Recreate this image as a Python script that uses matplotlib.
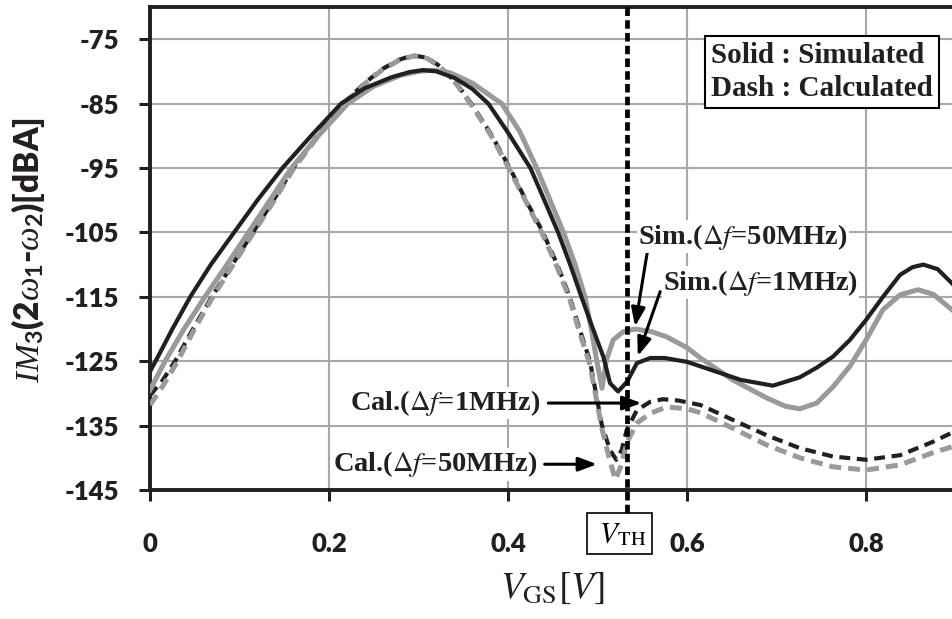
import matplotlib.pyplot as plt

plt.rcParams['mathtext.fontset'] = 'custom'
plt.rcParams['mathtext.rm'] = 'Lato:bold'
plt.rcParams['mathtext.bf'] = 'Lato:bold'
plt.rcParams['mathtext.it'] = 'Liberation Serif:italic'
plt.rcParams['axes.unicode_minus'] = False

# Sim. (df = 1MHz), black solid
vgs_sim1 = [0.0, 0.01, 0.025, 0.045, 0.068, 0.094, 0.12, 0.148, 0.18, 0.2135, 0.24, 0.27, 0.29,
            0.305, 0.32, 0.34, 0.36, 0.378, 0.40, 0.425, 0.44, 0.456, 0.47, 0.482, 0.495, 0.5065,
            0.514, 0.523, 0.533, 0.544, 0.559, 0.575, 0.6, 0.63, 0.66, 0.696, 0.726, 0.745,
            0.763, 0.782, 0.8, 0.819, 0.838, 0.852, 0.864, 0.88, 0.896]
im3_sim1 = [-126.6, -124.0, -120.0, -115.0, -110.0, -105.0, -100.0, -95.0, -90.0, -85.0, -82.6,
            -80.9, -80.1, -79.8, -80.0, -81.0, -82.7, -85.0, -89.5, -95.0, -99.8, -105.0, -110.2,
            -115.0, -120.0, -124.3, -128.4, -129.7, -128.2, -125.3, -124.5, -124.5, -125.1,
            -126.5, -127.9, -128.8, -127.5, -126.0, -124.3, -121.7, -118.6, -115.0, -111.6,
            -110.4, -110.0, -110.7, -112.9]

# Sim. (df = 50MHz), gray solid
vgs_sim50 = [0.0, 0.0168, 0.038, 0.0614, 0.086, 0.11, 0.134, 0.158, 0.188, 0.221, 0.25, 0.28,
             0.3, 0.316, 0.335, 0.36, 0.393, 0.413, 0.432, 0.447, 0.462, 0.475, 0.486, 0.493,
             0.499, 0.505, 0.510, 0.5175, 0.529, 0.542, 0.56, 0.577, 0.6, 0.615, 0.651, 0.689,
             0.71, 0.726, 0.745, 0.763, 0.782, 0.8, 0.819, 0.838, 0.858, 0.875, 0.896]
im3_sim50 = [-129.5, -125.0, -120.0, -115.0, -110.0, -105.0, -100.0, -95.0, -90.0, -85.0, -82.3,
             -80.6, -80.0, -79.8, -80.2, -81.8, -85.0, -89.3, -95.0, -100.0, -105.0, -110.0,
             -115.0, -120.0, -124.8, -129.2, -124.8, -121.7, -120.4, -120.0, -120.4, -121.2,
             -122.9, -124.5, -127.9, -130.7, -132.0, -132.4, -131.5, -129.0, -125.8, -121.7,
             -117.0, -114.7, -113.9, -114.6, -117.0]

# Cal. (df = 1MHz), black dashed
vgs_cal1 = [0.0, 0.014, 0.028, 0.048, 0.069, 0.092, 0.115, 0.138, 0.16, 0.187, 0.216, 0.24,
            0.26, 0.278, 0.294, 0.31, 0.325, 0.342, 0.359, 0.38, 0.402, 0.42, 0.439, 0.455,
            0.469, 0.48, 0.4916, 0.505, 0.514, 0.521, 0.527, 0.5326, 0.544, 0.559, 0.573, 0.59,
            0.615, 0.651, 0.689, 0.726, 0.763, 0.8, 0.838, 0.875, 0.896]
im3_cal1 = [-130.3, -128.0, -125.0, -120.0, -115.0, -110.0, -105.0, -100.0, -95.0, -90.0, -85.0,
            -81.8, -79.6, -78.2, -77.5, -77.9, -79.3, -81.8, -85.0, -89.5, -95.0, -100.0, -105.0,
            -110.0, -115.0, -120.0, -125.0, -135.0, -138.8, -140.3, -138.8, -135.7, -132.6,
            -131.3, -130.9, -131.1, -131.8, -134.1, -136.5, -138.5, -139.8, -140.3, -139.6,
            -137.5, -136.1]

# Cal. (df = 50MHz), gray dashed
vgs_cal50 = [0.0, 0.015, 0.03, 0.049, 0.069, 0.092, 0.115, 0.138, 0.16, 0.187, 0.216, 0.24,
             0.26, 0.278, 0.294, 0.31, 0.325, 0.342, 0.359, 0.38, 0.402, 0.42, 0.439, 0.455,
             0.469, 0.48, 0.4916, 0.505, 0.513, 0.52, 0.527, 0.5326, 0.544, 0.559, 0.577, 0.6,
             0.615, 0.651, 0.689, 0.726, 0.763, 0.8, 0.838, 0.875, 0.896]
im3_cal50 = [-131.8, -128.7, -125.2, -120.2, -115.3, -110.2, -105.2, -100.2, -95.2, -90.2,
             -85.2, -81.9, -79.7, -78.3, -77.6, -78.0, -79.4, -81.9, -85.2, -89.7, -95.3,
             -100.2, -105.4, -110.4, -115.4, -120.5, -125.6, -135.5, -140.0, -143.4, -141.0,
             -137.7, -134.6, -133.1, -132.1, -132.4, -133.0, -135.4, -138.0, -140.0, -141.4,
             -141.9, -141.1, -139.2, -138.3]

vth = 0.533
xticks = [0, 0.2, 0.4, 0.6, 0.8]
xticklabels = ['0', '0.2', '0.4', '0.6', '0.8']
yticks = [-145, -135, -125, -115, -105, -95, -85, -75]
yticklabels = ['-145', '-135', '-125', '-115', '-105', '-95', '-85', '-75']

BLACK = '#231f20'
GRAY = '#9a9a9a'

fig = plt.figure(figsize=(9.52, 6.19), dpi=100)
ax = fig.add_axes([150 / 952, 129 / 619, 895 / 952, 483 / 619])

ax.plot(vgs_cal1, im3_cal1, color=BLACK, lw=3.0, ls=(0, (2.6, 1.6)), zorder=3)
ax.plot(vgs_cal50, im3_cal50, color=GRAY, lw=3.6, ls=(0, (2.4, 1.4)), zorder=4)
ax.plot(vgs_sim50, im3_sim50, color=GRAY, lw=3.6, zorder=5)
ax.plot(vgs_sim1, im3_sim1, color=BLACK, lw=3.0, zorder=6)

# threshold voltage marker
ax.plot([vth, vth], [-70, -148.6], color='black', lw=3.4, ls=(0, (1.8, 0.9)),
        clip_on=False, zorder=7)
ax.text(0.525, -151.8, r'$\;V_{\mathrm{TH}}\;$', math_fontfamily='stix', fontsize=21,
        ha='center', va='center', clip_on=False,
        bbox=dict(boxstyle='square,pad=0.22', fc='white', ec='black', lw=1.2))

ax.set_xlim(0, 1.0)
ax.set_ylim(-145, -70)
ax.set_xticks(xticks)
ax.set_xticklabels(xticklabels)
ax.set_yticks(yticks)
ax.set_yticklabels(yticklabels)
for lab in ax.get_xticklabels() + ax.get_yticklabels():
    lab.set_fontfamily('Lato')
    lab.set_fontweight('heavy')
    lab.set_fontsize(18.5)
    lab.set_color(BLACK)
ax.tick_params(axis='both', direction='out', length=8, width=2.2, color=BLACK)
ax.tick_params(axis='x', pad=22)
ax.tick_params(axis='y', pad=14)

ax.grid(True, color='#a8a8a8', lw=1.5)
ax.set_axisbelow(True)
for s in ['left', 'bottom', 'top', 'right']:
    ax.spines[s].set_linewidth(2.8)
    ax.spines[s].set_color(BLACK)

# annotations
arrow = dict(arrowstyle='-|>,head_length=0.8,head_width=0.3', lw=2.2, color='black',
             shrinkA=0, shrinkB=0, mutation_scale=14)
tbox = dict(fc='white', ec='none', pad=1)
ax.annotate('', xy=(0.542, -119.6), xytext=(0.5564, -107.4), arrowprops=arrow, zorder=8)
ax.annotate('', xy=(0.545, -124.2), xytext=(0.570, -114.2), arrowprops=arrow, zorder=8)
ax.annotate('', xy=(0.549, -131.5), xytext=(0.445, -131.5), arrowprops=arrow, zorder=8)
ax.annotate('', xy=(0.4995, -141.0), xytext=(0.441, -141.0), arrowprops=arrow, zorder=8)

lab_kw = dict(fontfamily='Liberation Serif', fontweight='bold', fontsize=20.5,
              math_fontfamily='stix', va='center', color=BLACK, bbox=tbox, zorder=9)
ax.text(0.5453, -105.7, r'Sim.($\Delta\mathit{f}$=50MHz)', ha='left', **lab_kw)
ax.text(0.5732, -112.8, r'Sim.($\Delta\mathit{f}$=1MHz)', ha='left', **lab_kw)
ax.text(0.4358, -131.5, r'Cal.($\Delta\mathit{f}$=1MHz)', ha='right', **lab_kw)
ax.text(0.4324, -141.0, r'Cal.($\Delta\mathit{f}$=50MHz)', ha='right', **lab_kw)

fig.text(711 / 952, 1 - 72 / 619, 'Solid : Simulated\nDash : Calculated',
         fontfamily='Liberation Serif', fontweight='bold', fontsize=21, color=BLACK,
         ha='left', va='center', linespacing=1.25,
         bbox=dict(boxstyle='square,pad=0.22', fc='white', ec='black', lw=1.5), zorder=10)

# axis labels
fig.text(28 / 952, 1 - 250 / 619, r'$IM_3$(2$\omega_1$-$\omega_2$)[dBA]', rotation=90,
         fontfamily='Lato', fontweight='heavy', fontsize=24, color=BLACK,
         ha='center', va='center')
fig.text(552 / 952, 1 - 588 / 619, r'$V_{\mathrm{GS}}[V]$', math_fontfamily='stix',
         fontsize=27, color=BLACK, ha='center', va='center')

fig.savefig('out.png', dpi=100)
